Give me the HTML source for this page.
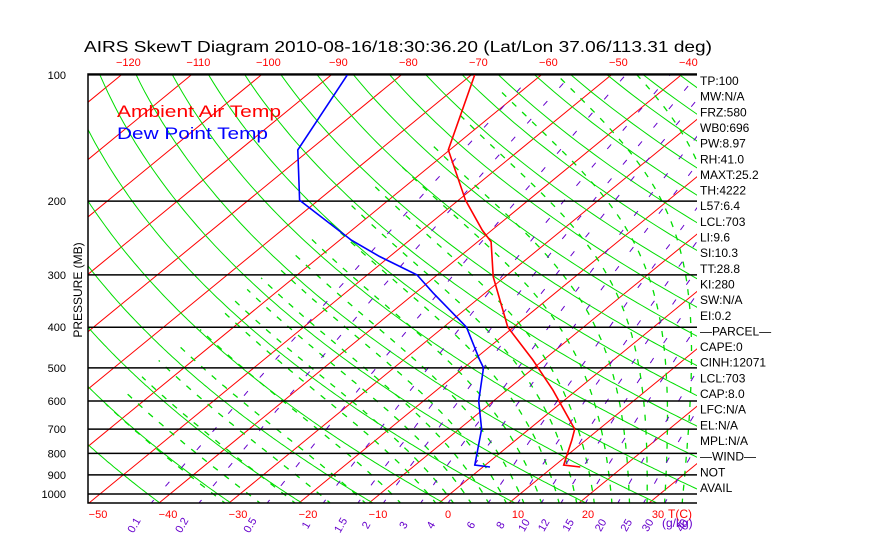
<!DOCTYPE html>
<html><head><meta charset="utf-8"><style>
body{margin:0;background:#fff;}
svg{display:block;font-family:"Liberation Sans",sans-serif;}
</style></head><body>
<svg id="chart" width="870" height="560" viewBox="0 0 870 560" xmlns="http://www.w3.org/2000/svg">
<rect width="870" height="560" fill="#fff"/>
<text x="84" y="52" font-size="16" fill="#000" textLength="628" lengthAdjust="spacingAndGlyphs">AIRS SkewT Diagram 2010-08-16/18:30:36.20 (Lat/Lon 37.06/113.31 deg)</text>
<defs><clipPath id="pc"><rect x="88" y="74" width="609" height="429"/></clipPath></defs>
<g id="grid" clip-path="url(#pc)"></g>
<g id="series" clip-path="url(#pc)"></g>
<g id="axes"></g>
<text x="117" y="117" font-size="17" fill="#f00" textLength="164" lengthAdjust="spacingAndGlyphs">Ambient Air Temp</text>
<text x="117" y="139" font-size="17" fill="#00f" textLength="151" lengthAdjust="spacingAndGlyphs">Dew Point Temp</text>
<text transform="translate(82,290) rotate(-90)" text-anchor="middle" font-size="12" fill="#000">PRESSURE (MB)</text>
</svg>
<script>
const pressureTicks=[100,200,300,400,500,600,700,800,900,1000];
const topTempTicks=[-120,-110,-100,-90,-80,-70,-60,-50,-40];
const bottomTempTicks=[-50,-40,-30,-20,-10,0,10,20,30];
const mixRatios=[0.1,0.2,0.5,1,1.5,2,3,4,6,8,10,12,15,20,25,30,40];
const thetas=[200,210,220,230,240,250,260,270,280,290,300,310,320,330,340,350,360,370,380,390,400,410,420,430,440,450,460,470,480,490,500,520,540];
const moistStarts=[-30,-25,-20,-15,-10,-5,0,2.5,5,7.5,10,12.5,15,17.5,20,22.5,25,27.5,30,32.5,35,37.5,40];
const tempP=[100,151,199,235,250,303,400,479,565,700,743,853,862];
const tempT=[-69.5,-60.2,-49.0,-41.3,-38.1,-31.7,-20.8,-11.5,-3.4,6.5,8.0,11.2,13.9];
const dewP=[100,151,199,248,271,300,331,400,479,500,600,700,853,862];
const dewT=[-87.7,-81.7,-72.7,-58.3,-51.5,-42.9,-37.5,-26.7,-19.1,-17.2,-12.1,-6.8,-1.5,1.0];
const sideLabels=["TP:100","MW:N/A","FRZ:580","WB0:696","PW:8.97","RH:41.0","MAXT:25.2","TH:4222","L57:6.4","LCL:703","LI:9.6","SI:10.3","TT:28.8","KI:280","SW:N/A","EI:0.2","\u2014PARCEL\u2014","CAPE:0","CINH:12071","LCL:703","CAP:8.0","LFC:N/A","EL:N/A","MPL:N/A","\u2014WIND\u2014","NOT","AVAIL"];

const NS="http://www.w3.org/2000/svg";
function yP(p){return 494-182*Math.log(1000/p);}
function xT(T,y){return 439+7.0*T+(503-y)*1.22;}
function mk(tag,attrs,parent){const e=document.createElementNS(NS,tag);for(const k in attrs)e.setAttribute(k,attrs[k]);parent.appendChild(e);return e;}
const grid=document.getElementById('grid'),ser=document.getElementById('series'),axes=document.getElementById('axes');
function polyFromTP(Ts,Ps){return Ts.map((t,i)=>{const y=yP(Ps[i]);return xT(t,y).toFixed(1)+','+y.toFixed(1);}).join(' ');}
const pres=[];for(let p=1060;p>=95;p-=5)pres.push(p);

for(let T=-200;T<=60;T+=10){
  const l=mk('line',{x1:xT(T,503),y1:503,x2:xT(T,74),y2:74,stroke:'#f00','stroke-width':1},grid);
  
  
}
thetas.forEach(th=>{
  const ts=pres.map(p=>th*Math.pow(p/1000,0.286)-273.15);
  const pl=mk('polyline',{points:polyFromTP(ts,pres),fill:'none',stroke:'#0d0','stroke-width':1},grid);
  
  
});
function es(T){return 6.112*Math.exp(17.67*T/(T+243.5));}
moistStarts.forEach(t0=>{
  const ps=[],ts=[];let T=t0+273.15;
  for(let p=1060;p>=100;p-=5){
    if(T-273.15<-65)break;
    ps.push(p);ts.push(T-273.15);
    const e=es(T-273.15),rs=0.622*e/(p-e);
    const dTdp=(287*T+2.5e6*rs)/(p*(1004+2.5e6*2.5e6*rs*0.622/(287*T*T)));
    T-=dTdp*5;
  }
  if(ps.length<2)return;
  const pl=mk('polyline',{points:polyFromTP(ts,ps),fill:'none',stroke:'#0d0','stroke-width':1.3,'stroke-dasharray':'6,8'},grid);
  
  
});
function tdw(w,p){const e=w*p/(622+w);const l=Math.log(e/6.112);return 243.5*l/(17.67-l);}
mixRatios.forEach(w=>{
  const ts=pres.map(p=>tdw(w,p));
  const pl=mk('polyline',{points:polyFromTP(ts,pres),fill:'none',stroke:'#60c','stroke-width':1,'stroke-dasharray':'6,18'},grid);
  
  
  const x=xT(tdw(w,1050),503)-14;
  const t=mk('text',{x:x,y:527,'font-size':11,fill:'#60c',transform:`rotate(-60 ${x} 527)`,'text-anchor':'middle'},axes);
  t.textContent=String(w);
  
  
});
pressureTicks.forEach(p=>{
  const y=yP(p);
  const l=mk('line',{x1:88,y1:y,x2:697,y2:y,stroke:'#000','stroke-width':1.5},grid);
  
  
  const t=mk('text',{x:66,y:y+4,'font-size':11,'text-anchor':'end',fill:'#000'},axes);
  t.textContent=String(p);
  
  
});
const tl=mk('polyline',{points:polyFromTP(tempT,tempP),fill:'none',stroke:'#f00','stroke-width':1.6},ser);


const dl=mk('polyline',{points:polyFromTP(dewT,dewP),fill:'none',stroke:'#00f','stroke-width':1.6},ser);


const fr=mk('polyline',{points:'697,74 88,74 88,503 697,503',fill:'none',stroke:'#000','stroke-width':1.5},axes);


topTempTicks.forEach(T=>{
  const t=mk('text',{x:xT(T,74)+6,y:66,'font-size':11,'text-anchor':'middle',fill:'#f00'},axes);
  t.textContent=String(T).replace('-','\u2212');
  
  
});
bottomTempTicks.forEach(T=>{
  const t=mk('text',{x:xT(T,503)+9,y:518,'font-size':11,'text-anchor':'middle',fill:'#f00'},axes);
  t.textContent=String(T).replace('-','\u2212');
  
  
});
const tc=mk('text',{x:668,y:518,'font-size':12,fill:'#f00'},axes);
tc.textContent='T(C)';


const wg=mk('text',{x:662,y:527,'font-size':12,fill:'#60c'},axes);
wg.textContent='(g/kg)';


sideLabels.forEach((s,i)=>{
  const t=mk('text',{x:700,y:85+i*15.65,'font-size':12,fill:'#000'},axes);
  t.textContent=s;
  
  
});
</script>
</body></html>
